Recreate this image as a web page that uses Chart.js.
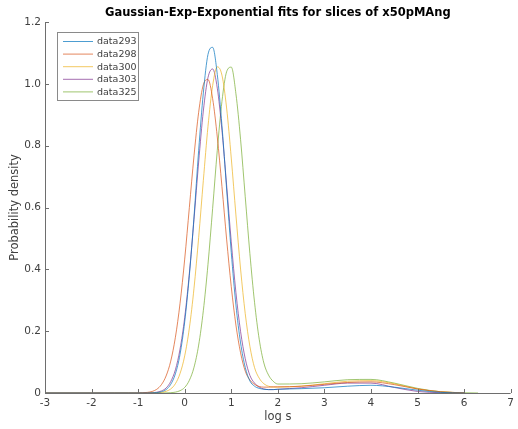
<!DOCTYPE html>
<html>
<head>
<meta charset="utf-8">
<script src="https://cdn.jsdelivr.net/npm/chart.js@4/dist/chart.umd.min.js"></script>
<style>
    html, body { margin: 0; padding: 0; background: #fff; }
    #wrap { width: 518px; height: 429px; }
</style>
</head>
<body>
<div id="wrap"><canvas id="fitChart" width="518" height="429"></canvas></div>
<script>
// log s grid shared by all slices
const logS = [-3, -2, -1.5, -1.2, -1.0, -0.9, -0.8, -0.7, -0.6, -0.5, -0.4, -0.3, -0.2, -0.1,
    0, 0.1, 0.2, 0.3, 0.4, 0.5, 0.6, 0.7, 0.8, 0.9, 1.0, 1.1, 1.2, 1.3, 1.4, 1.5, 1.6, 1.7, 1.8, 1.9,
    2.0, 2.5, 3.0, 3.5, 4.0, 4.5, 5.0, 5.5, 6.0, 6.3];

const data293 = [0, 0, 0, 0, 0, 0, 0.0001, 0.0004, 0.0014, 0.004, 0.011, 0.028, 0.062, 0.125,
    0.23, 0.38, 0.57, 0.785, 0.97, 1.095, 1.118, 1.03, 0.865, 0.66, 0.455, 0.285, 0.162, 0.083, 0.039, 0.022, 0.015, 0.012, 0.011, 0.011,
    0.012, 0.014, 0.017, 0.022, 0.025, 0.019, 0.009, 0.002, 0, null];

const data298 = [0, 0, 0, 0, 0.0002, 0.0007, 0.002, 0.005, 0.012, 0.027, 0.055, 0.103, 0.18, 0.29,
    0.433, 0.6, 0.767, 0.908, 0.997, 1.014, 0.952, 0.828, 0.668, 0.498, 0.344, 0.22, 0.13, 0.071, 0.042, 0.028, 0.021, 0.019, 0.019, 0.02,
    0.02, 0.022, 0.028, 0.034, 0.036, 0.027, 0.013, 0.004, 0.0005, null];

const data300 = [0, 0, 0, 0, 0, 0, 0.0001, 0.0002, 0.0007, 0.002, 0.0054, 0.013, 0.03, 0.063,
    0.12, 0.21, 0.339, 0.503, 0.687, 0.862, 0.994, 1.055, 1.028, 0.922, 0.76, 0.576, 0.401, 0.257, 0.151, 0.082, 0.048, 0.03, 0.022, 0.019,
    0.019, 0.022, 0.03, 0.038, 0.04, 0.03, 0.013, 0.004, 0.0005, null];

const data303 = [0, 0, 0, 0, 0, 0.0001, 0.0003, 0.0009, 0.0025, 0.0067, 0.016, 0.037, 0.075, 0.142,
    0.244, 0.387, 0.562, 0.747, 0.912, 1.02, 1.048, 0.986, 0.85, 0.673, 0.489, 0.325, 0.199, 0.111, 0.057, 0.032, 0.019, 0.013, 0.011, 0.011,
    0.012, 0.017, 0.025, 0.032, 0.032, 0.018, 0.005, 0.001, 0, null];

const data325 = [0, 0, 0, 0, 0, 0, 0, 0, 0, 0.0001, 0.0003, 0.001, 0.0028, 0.0075,
    0.018, 0.041, 0.083, 0.155, 0.266, 0.416, 0.597, 0.785, 0.943, 1.039, 1.054, 0.968, 0.82, 0.635, 0.451, 0.293, 0.174, 0.097, 0.058, 0.038,
    0.029, 0.03, 0.036, 0.043, 0.044, 0.032, 0.015, 0.004, 0.0008, 0];

const seriesNames = ['data293', 'data298', 'data300', 'data303', 'data325'];
const seriesValues = [data293, data298, data300, data303, data325];
const seriesColors = ['#0072BD', '#D95319', '#EDB120', '#7E2F8E', '#77AC30'];

const xTicks = [-3, -2, -1, 0, 1, 2, 3, 4, 5, 6, 7];
const yTicks = [0, 0.2, 0.4, 0.6, 0.8, 1, 1.2];

const titleText = 'Gaussian-Exp-Exponential fits for slices of x50pMAng';
const textColor = '#404040';
const axisColor = '#6e6e6e';
const fontFamily = '"DejaVu Sans", sans-serif';

// build datasets
const datasets = seriesNames.map((name, i) => ({
    label: name,
    data: logS.map((x, j) => ({ x: x, y: seriesValues[i][j] })),
    borderColor: seriesColors[i],
    borderWidth: 0.7,
    pointRadius: 0,
    fill: false,
    cubicInterpolationMode: 'monotone',
    spanGaps: false
}));

// title, axis lines with inward ticks, legend box
const decorPlugin = {
    id: 'decor',
    afterDraw(chart) {
        const ctx = chart.ctx;
        const area = chart.chartArea;
        const xs = chart.scales.x;
        const ys = chart.scales.y;
        ctx.save();

        // title
        ctx.fillStyle = '#000';
        ctx.font = 'bold 11.5px ' + fontFamily;
        ctx.textAlign = 'center';
        ctx.textBaseline = 'middle';
        ctx.fillText(titleText, (area.left + area.right) / 2, 13);

        // axis lines and inward ticks
        ctx.strokeStyle = axisColor;
        ctx.lineWidth = 1;
        ctx.beginPath();
        ctx.moveTo(area.left + 0.5, area.top);
        ctx.lineTo(area.left + 0.5, area.bottom + 0.5);
        ctx.lineTo(area.right, area.bottom + 0.5);
        xTicks.forEach(v => {
            const px = Math.round(xs.getPixelForValue(v)) + 0.5;
            ctx.moveTo(px, area.bottom);
            ctx.lineTo(px, area.bottom - 4);
        });
        yTicks.forEach(v => {
            const py = Math.round(ys.getPixelForValue(v)) + 0.5;
            ctx.moveTo(area.left, py);
            ctx.lineTo(area.left + 4, py);
        });
        ctx.stroke();

        // legend
        const bx = 57.5, by = 32.5, bw = 81, bh = 68;
        ctx.fillStyle = '#fff';
        ctx.fillRect(bx, by, bw, bh);
        ctx.strokeStyle = '#8a8a8a';
        ctx.lineWidth = 1;
        ctx.strokeRect(bx, by, bw, bh);
        ctx.font = '9.5px ' + fontFamily;
        ctx.textAlign = 'left';
        seriesNames.forEach((name, i) => {
            const ly = 41.5 + i * 12.6;
            ctx.strokeStyle = seriesColors[i];
            ctx.lineWidth = 0.7;
            ctx.beginPath();
            ctx.moveTo(63, ly);
            ctx.lineTo(93, ly);
            ctx.stroke();
            ctx.fillStyle = textColor;
            ctx.fillText(name, 97, ly + 0.5);
        });
        ctx.restore();
    }
};

const ctx = document.getElementById('fitChart').getContext('2d');
new Chart(ctx, {
    type: 'line',
    data: { datasets: datasets },
    options: {
        responsive: false,
        animation: false,
        parsing: false,
        layout: { padding: { top: 22, right: 5, left: 0, bottom: 0 } },
        plugins: {
            legend: { display: false },
            title: { display: false },
            tooltip: { enabled: false }
        },
        scales: {
            x: {
                type: 'linear',
                min: -3,
                max: 7,
                afterFit: s => { s.height = 36; },
                afterBuildTicks: s => { s.ticks = xTicks.map(v => ({ value: v })); },
                grid: { display: false, drawTicks: false },
                border: { display: false },
                ticks: { color: textColor, font: { family: fontFamily, size: 10.5 }, padding: 4, maxRotation: 0, autoSkip: false },
                title: { display: true, text: 'log s', color: textColor, font: { family: fontFamily, size: 11.5 }, padding: { top: 0, bottom: 5 } }
            },
            y: {
                type: 'linear',
                min: 0,
                max: 1.2,
                afterFit: s => { s.width = 45; },
                afterBuildTicks: s => { s.ticks = yTicks.map(v => ({ value: v })); },
                grid: { display: false, drawTicks: false },
                border: { display: false },
                ticks: { color: textColor, font: { family: fontFamily, size: 10.5 }, padding: 4 },
                title: { display: true, text: 'Probability density', color: textColor, font: { family: fontFamily, size: 11.5 }, padding: { top: 8, bottom: 0 } }
            }
        }
    },
    plugins: [decorPlugin]
});
</script>
</body>
</html>
